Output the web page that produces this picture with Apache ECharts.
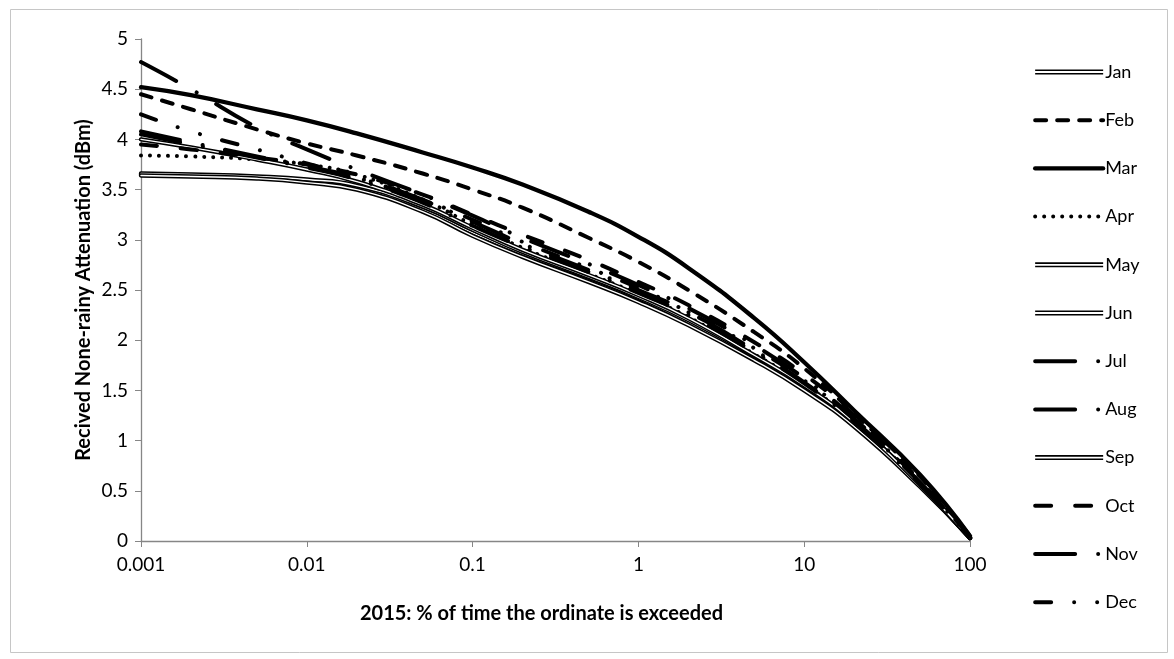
<!DOCTYPE html>
<html><head><meta charset="utf-8">
<script src="https://cdn.jsdelivr.net/npm/echarts@6/dist/echarts.min.js"></script>
<style>html,body{margin:0;padding:0;background:#fff}#c{width:1174px;height:659px}</style>
</head><body><div id="c"></div>
<script>
// % of time the ordinate is exceeded (x, log scale)
const percentTime = [0.001, 0.002, 0.005, 0.01, 0.02, 0.05, 0.1, 0.2, 0.5, 1, 2, 5, 10, 20, 50, 100];
const months = ['Jan','Feb','Mar','Apr','May','Jun','Jul','Aug','Sep','Oct','Nov','Dec'];
// Received none-rainy attenuation (dBm) per month
const jan = [3.65, 3.64, 3.62, 3.59, 3.52, 3.30, 3.07, 2.86, 2.62, 2.42, 2.18, 1.82, 1.52, 1.16, 0.55, 0.03];
const feb = [4.45, 4.30, 4.10, 3.96, 3.84, 3.66, 3.50, 3.32, 3.02, 2.78, 2.50, 2.08, 1.72, 1.27, 0.64, 0.05];
const mar = [4.52, 4.44, 4.30, 4.19, 4.06, 3.87, 3.72, 3.55, 3.28, 3.03, 2.72, 2.22, 1.78, 1.30, 0.66, 0.05];
const apr = [3.84, 3.83, 3.80, 3.75, 3.65, 3.40, 3.15, 2.92, 2.66, 2.46, 2.23, 1.86, 1.56, 1.19, 0.57, 0.03];
const may = [3.66, 3.65, 3.63, 3.60, 3.54, 3.33, 3.10, 2.88, 2.63, 2.43, 2.20, 1.84, 1.54, 1.18, 0.56, 0.03];
const jun = [3.64, 3.63, 3.61, 3.57, 3.50, 3.28, 3.04, 2.83, 2.58, 2.38, 2.15, 1.80, 1.50, 1.14, 0.54, 0.03];
const jul = [4.77, 4.50, 4.12, 3.90, 3.70, 3.45, 3.24, 3.02, 2.76, 2.55, 2.32, 1.95, 1.62, 1.22, 0.58, 0.04];
const aug = [4.08, 3.97, 3.83, 3.73, 3.62, 3.40, 3.18, 2.96, 2.70, 2.50, 2.28, 1.90, 1.58, 1.20, 0.58, 0.04];
const sep = [4.00, 3.92, 3.80, 3.70, 3.58, 3.35, 3.12, 2.90, 2.65, 2.45, 2.22, 1.85, 1.55, 1.18, 0.56, 0.03];
const oct = [3.95, 3.90, 3.82, 3.75, 3.65, 3.45, 3.25, 3.05, 2.80, 2.58, 2.35, 1.98, 1.66, 1.25, 0.60, 0.04];
const nov = [4.05, 3.95, 3.82, 3.72, 3.60, 3.37, 3.14, 2.93, 2.68, 2.47, 2.25, 1.88, 1.57, 1.19, 0.57, 0.04];
const dec = [4.25, 4.08, 3.90, 3.76, 3.62, 3.40, 3.20, 2.98, 2.72, 2.52, 2.28, 1.92, 1.60, 1.21, 0.58, 0.04];
const monthValues = [jan, feb, mar, apr, may, jun, jul, aug, sep, oct, nov, dec];
const xTickLabels = ['0.001','0.01','0.1','1','10','100'];
const xTitle = '2015: % of time the ordinate is exceeded';
const yTitle = 'Recived None-rainy Attenuation (dBm)';

const FONT = 'Lato';
const W = 4;
const styles = {
  Jan: {double: true},
  Feb: {type: [11, 11]},
  Mar: {type: 'solid', width: 4.3},
  Apr: {type: [0.01, 9]},
  May: {double: true},
  Jun: {double: true},
  Jul: {type: [40, 23, 0.01, 23]},
  Aug: {type: [40, 23, 0.01, 23]},
  Sep: {double: true},
  Oct: {type: [16, 24]},
  Nov: {type: [40, 23, 0.01, 23]},
  Dec: {type: [16, 23, 0.01, 23, 0.01, 23]}
};
const doubleIcon = 'path://M0,0L68,0L68,5L0,5Z M0,1.6L0,3.4L68,3.4L68,1.6Z';

const series = [];
const legendData = [];
months.forEach((m, i) => {
  const pts = percentTime.map((x, k) => [x, monthValues[i][k]]);
  const st = styles[m];
  if (st.double) {
    series.push({name: m, type: 'line', data: pts, smooth: 0.5, symbol: 'none', silent: true,
      lineStyle: {color: '#000', width: 4.4, type: 'solid', cap: 'round'}, itemStyle: {color: '#000'}});
    series.push({name: m + '_inner', type: 'line', data: pts, smooth: 0.5, symbol: 'none', silent: true,
      lineStyle: {color: '#fff', width: 1.4, type: 'solid', cap: 'round'}, itemStyle: {color: '#fff'}});
    legendData.push({name: m, icon: doubleIcon, itemStyle: {color: '#000', opacity: 1, borderWidth: 0}});
  } else {
    series.push({name: m, type: 'line', data: pts, smooth: 0.5, symbol: 'none', silent: true,
      lineStyle: {color: '#000', width: st.width || W, type: st.type, cap: 'round', join: 'round'},
      itemStyle: {color: '#000'}});
    legendData.push({name: m});
  }
});

const chart = echarts.init(document.getElementById('c'), null, {renderer: 'canvas'});
chart.setOption({
  animation: false,
  backgroundColor: '#fff',
  textStyle: {fontFamily: FONT},
  graphic: [{type: 'rect', left: 8, top: 7, shape: {width: 1157, height: 643},
    style: {fill: 'none', stroke: '#c6c6c6', lineWidth: 1}, silent: true}],
  grid: {left: 141, right: 204, top: 39, bottom: 118},
  legend: {
    orient: 'vertical', left: 1028, top: 57, itemWidth: 68, itemHeight: 6, itemGap: 28.2,
    data: legendData, selectedMode: false,
    itemStyle: {opacity: 0, borderWidth: 0},
    lineStyle: {width: 'inherit', type: 'inherit', cap: 'round'},
    textStyle: {fontFamily: FONT, fontSize: 18, color: '#000', lineHeight: 20, padding: [0, 0, 0, -3]}
  },
  xAxis: {
    type: 'log', logBase: 10, min: 0.001, max: 100,
    name: xTitle, nameLocation: 'middle', nameGap: 63, nameMoveOverlap: false,
    nameTextStyle: {fontFamily: FONT, fontSize: 20, fontWeight: 'bold', color: '#000', padding: [0, 28, 0, 0]},
    axisLine: {lineStyle: {color: '#868686', width: 1.3}},
    axisTick: {show: true, length: 6, lineStyle: {color: '#868686'}},
    minorTick: {show: false}, splitLine: {show: false},
    axisLabel: {fontFamily: FONT, fontSize: 19, color: '#000', margin: 14,
      formatter: v => { const s = String(Number(v.toPrecision(3))); return xTickLabels.includes(s) ? s : ''; }}
  },
  yAxis: {
    type: 'value', min: 0, max: 5, interval: 0.5,
    name: yTitle, nameLocation: 'middle', nameGap: 47, nameRotate: 90, nameMoveOverlap: false,
    nameTextStyle: {fontFamily: FONT, fontSize: 20, fontWeight: 'bold', color: '#000'},
    axisLine: {show: true, lineStyle: {color: '#868686', width: 1.3}},
    axisTick: {show: true, length: 6, lineStyle: {color: '#868686'}},
    splitLine: {show: false},
    axisLabel: {fontFamily: FONT, fontSize: 19, color: '#000', margin: 13}
  },
  series: series
});
</script></body></html>
